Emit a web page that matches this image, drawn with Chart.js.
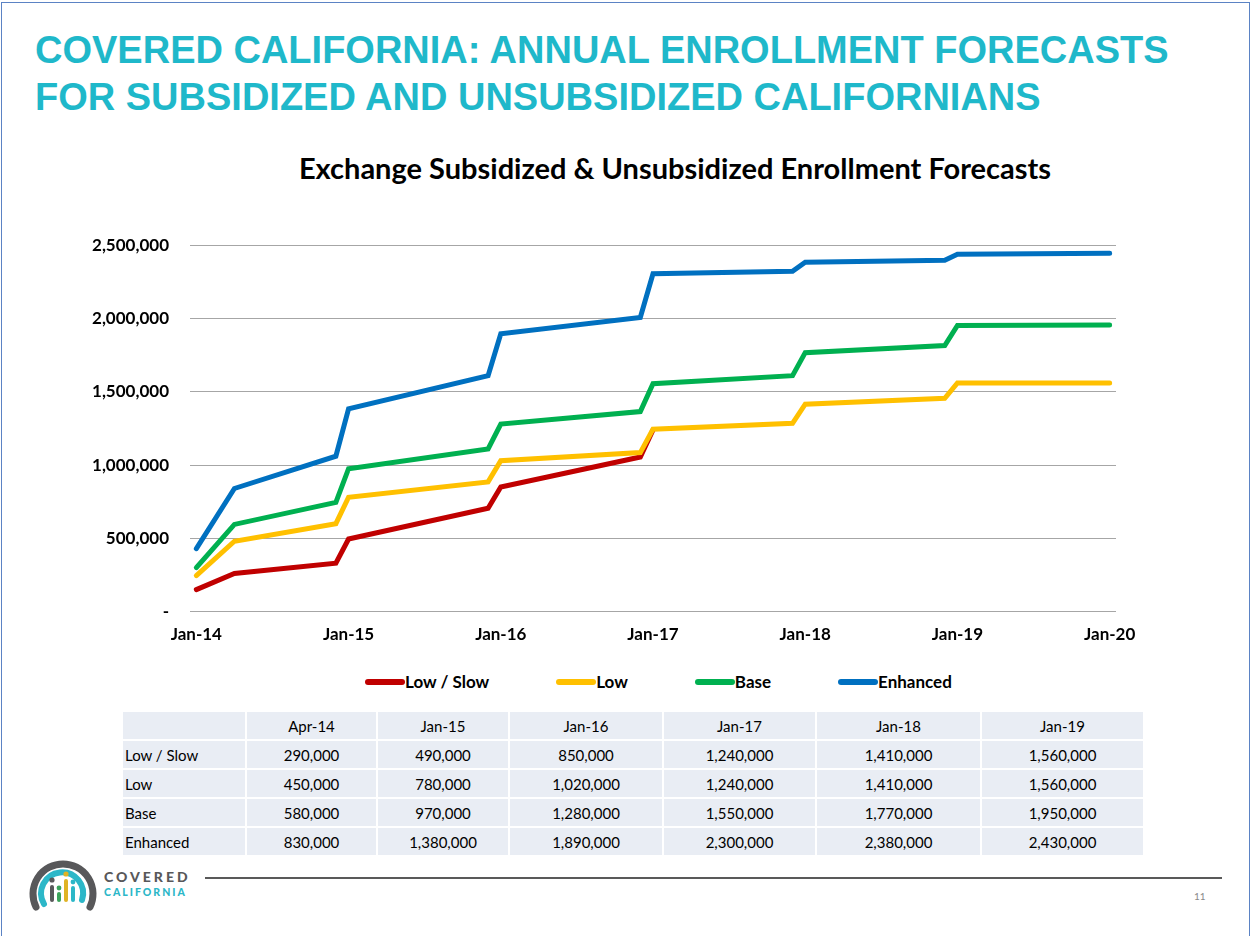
<!DOCTYPE html>
<html>
<head>
<meta charset="utf-8">
<script src="https://cdn.jsdelivr.net/npm/chart.js@4.4.1/dist/chart.umd.min.js"></script>
<style>
  body { margin: 0; width: 1252px; height: 936px; background: #fff; position: relative; overflow: hidden; font-family: Lato, sans-serif; }
  .frame { position: absolute; left: 1px; top: 2px; width: 1247px; height: 960px; border: 1px solid #5b83c4; }
  .slide-title { position: absolute; left: 35px; top: 27px; margin: 0; font: bold 38px "Liberation Sans", Arial, sans-serif; color: #1fb8ca; line-height: 47px; }
  .chart-title { position: absolute; left: 0; width: 1350px; top: 150px; text-align: center; font: bold 29px Lato, sans-serif; color: #000; }
  #chartBox { position: absolute; left: 0; top: 214px; width: 1252px; height: 448px; }
  #legend { position: absolute; left: 365px; top: 671px; display: flex; gap: 67px; font: bold 17px Lato, sans-serif; color: #000; }
  #legend .item { display: flex; align-items: center; }
  #legend .swatch { width: 40px; height: 6px; border-radius: 3px; }
  table { position: absolute; left: 123px; top: 712px; border-collapse: separate; border-spacing: 0; font: 15px Lato, sans-serif; color: #000; }
  td { background: #e9edf4; height: 27px; padding: 0; text-align: center; border-right: 2px solid #fff; border-bottom: 2px solid #fff; }
  td:first-child { text-align: left; padding-left: 2px; }
  .footer-line { position: absolute; left: 205px; top: 877px; width: 1017px; height: 2px; background: #595959; }
  .page-no { position: absolute; left: 1194px; top: 890px; font: 10px Lato, sans-serif; color: #8a8a8a; }
  .logo-text { position: absolute; left: 104px; font-family: Lato, sans-serif; font-weight: 900; }
</style>
</head>
<body>
<div class="frame"></div>
<h1 class="slide-title">COVERED CALIFORNIA: ANNUAL ENROLLMENT FORECASTS<br>FOR SUBSIDIZED AND UNSUBSIDIZED CALIFORNIANS</h1>
<div class="chart-title">Exchange Subsidized &amp; Unsubsidized Enrollment Forecasts</div>
<div id="chartBox"><canvas id="myChart"></canvas></div>
<div id="legend"></div>
<table id="forecastTable"></table>

<svg style="position:absolute;left:0;top:840px" width="110" height="80" viewBox="0 840 110 80">
  <path d="M 36 907 A 30 30 0 1 1 90 907" fill="none" stroke="#58585a" stroke-width="7" stroke-linecap="round"/>
  <path d="M 44 904 A 21 21 0 1 1 82 900" fill="none" stroke="#2cb7c8" stroke-width="6" stroke-linecap="round"/>
  <circle cx="52" cy="880" r="2.6" fill="#58585a"/>
  <rect x="50" y="885" width="4" height="17" rx="2" fill="#58585a"/>
  <circle cx="59" cy="888" r="2.4" fill="#3aa35a"/>
  <rect x="57" y="892" width="4" height="10" rx="2" fill="#3aa35a"/>
  <circle cx="66" cy="874" r="2.6" fill="#e0b324"/>
  <rect x="64" y="879" width="4" height="23" rx="2" fill="#e0b324"/>
  <circle cx="73" cy="882" r="2.4" fill="#2cb7c8"/>
  <rect x="71" y="886" width="4" height="16" rx="2" fill="#2cb7c8"/>
</svg>
<div class="logo-text" style="top:868px;font-size:14px;letter-spacing:3px;color:#58585a">COVERED</div>
<div class="logo-text" style="top:886px;font-size:10.5px;letter-spacing:2px;color:#2cb7c8">CALIFORNIA</div>
<div class="footer-line"></div>
<div class="page-no">11</div>

<script>
///// data

const MONTHS = ['Jan','Feb','Mar','Apr','May','Jun','Jul','Aug','Sep','Oct','Nov','Dec'];

const pointDates = [
  'Jan-14', 'Apr-14', 'Dec-14', 'Jan-15', 'Dec-15', 'Jan-16', 'Dec-16',
  'Jan-17', 'Dec-17', 'Jan-18', 'Dec-18', 'Jan-19', 'Jan-20',
];
// low / slow runs under the low line after Jan-17, so it stops there
const lowSlow = [
  150000, 260000, 330000, 495000, 705000, 850000, 1055000,
  1240000, null, null, null, null, null,
];
const low = [
  245000, 480000, 600000, 780000, 885000, 1030000, 1085000,
  1245000, 1285000, 1415000, 1455000, 1560000, 1560000,
];
const base = [
  300000, 595000, 745000, 975000, 1110000, 1280000, 1365000,
  1555000, 1610000, 1767000, 1815000, 1952000, 1955000,
];
const enhanced = [
  430000, 840000, 1060000, 1384000, 1610000, 1895000, 2007000,
  2305000, 2322000, 2384000, 2397000, 2438000, 2445000,
];
const axisLabels = ['Jan-14', 'Jan-15', 'Jan-16', 'Jan-17', 'Jan-18', 'Jan-19', 'Jan-20'];

const tableCols = ['Apr-14', 'Jan-15', 'Jan-16', 'Jan-17', 'Jan-18', 'Jan-19'];
const tableLowSlow = [290000, 490000, 850000, 1240000, 1410000, 1560000];
const tableLow = [450000, 780000, 1020000, 1240000, 1410000, 1560000];
const tableBase = [580000, 970000, 1280000, 1550000, 1770000, 1950000];
const tableEnhanced = [830000, 1380000, 1890000, 2300000, 2380000, 2430000];

////

function monthIndex(label) {
  const [m, y] = label.split('-');
  return (Number(y) - 14) * 12 + MONTHS.indexOf(m);
}

function points(values) {
  return pointDates
    .map((d, i) => ({ x: monthIndex(d), y: values[i] }))
    .filter((p) => p.y !== null);
}

const fmt = (v) => v.toLocaleString('en-US');

function line(label, values, color, order) {
  return {
    label,
    data: points(values),
    borderColor: color,
    backgroundColor: color,
    borderWidth: 5,
    borderCapStyle: 'round',
    pointRadius: 0,
    tension: 0,
    order,
  };
}

const ctx = document.querySelector('#myChart').getContext('2d');

const config = {
  type: 'line',
  data: {
    datasets: [
      line('Low / Slow', lowSlow, '#c00000', 1),
      line('Low', low, '#ffc000', 0),
      line('Base', base, '#00b050', 0),
      line('Enhanced', enhanced, '#0070c0', 0),
    ],
  },
  options: {
    responsive: true,
    maintainAspectRatio: false,
    animation: false,
    layout: { padding: { left: 40, right: 136, top: 10, bottom: 12 } },
    plugins: {
      legend: { display: false },
      tooltip: { enabled: false },
    },
    scales: {
      x: {
        type: 'linear',
        min: -0.5,
        max: 72.5,
        grid: { display: false },
        border: { display: false },
        afterBuildTicks: (scale) => {
          scale.ticks = axisLabels.map((l) => ({ value: monthIndex(l) }));
        },
        ticks: {
          padding: 5,
          maxRotation: 0,
          autoSkip: false,
          color: '#000',
          font: { family: 'Lato', weight: 'bold', size: 17 },
          callback: (value, index) => axisLabels[index],
        },
      },
      y: {
        min: 0,
        max: 2500000,
        afterFit: (scale) => {
          scale.width = 150;
        },
        grid: { color: '#a6a6a6', lineWidth: 1, drawTicks: false },
        border: { display: false },
        ticks: {
          stepSize: 500000,
          padding: 21,
          color: '#000',
          font: { family: 'Lato', weight: 'bold', size: 17 },
          callback: (value) => (value === 0 ? '-' : fmt(value)),
        },
      },
    },
  },
};

const myChart = new Chart(ctx, config);

// legend in html, from the chart's own datasets
const legendEl = document.getElementById('legend');
myChart.data.datasets.forEach((ds) => {
  const item = document.createElement('div');
  item.className = 'item';
  item.innerHTML = `<span class="swatch" style="background:${ds.borderColor}"></span><span>${ds.label}</span>`;
  legendEl.appendChild(item);
});

// data table under the chart
const colWidths = [122, 131, 132, 154, 153, 165, 163];
const tableRows = [
  ['Low / Slow', tableLowSlow],
  ['Low', tableLow],
  ['Base', tableBase],
  ['Enhanced', tableEnhanced],
];
const table = document.getElementById('forecastTable');
let html = '<tr>' + ['', ...tableCols].map((c, i) => `<td style="width:${colWidths[i] - 2}px">${c}</td>`).join('') + '</tr>';
tableRows.forEach(([name, vals]) => {
  html += '<tr><td>' + name + '</td>' + vals.map((v) => `<td>${fmt(v)}</td>`).join('') + '</tr>';
});
table.innerHTML = html;
</script>
</body>
</html>
